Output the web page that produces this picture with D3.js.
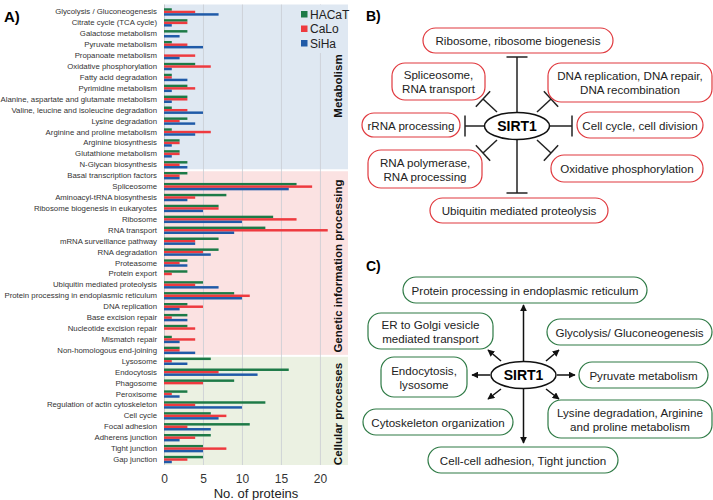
<!DOCTYPE html>
<html><head><meta charset="utf-8">
<script src="https://cdn.jsdelivr.net/npm/d3@7"></script>
<style>
html,body{margin:0;padding:0;background:#fff;}
svg{display:block;font-family:"Liberation Sans",Arial,sans-serif;}
</style></head>
<body><svg id="c" width="713" height="500"></svg>
<script>
const categories = ["Glycolysis / Gluconeogenesis","Citrate cycle (TCA cycle)","Galactose metabolism","Pyruvate metabolism","Propanoate metabolism","Oxidative phosphorylation","Fatty acid degradation","Pyrimidine metabolism","Alanine, aspartate and glutamate metabolism","Valine, leucine and isoleucine degradation","Lysine degradation","Arginine and proline metabolism","Arginine biosynthesis","Glutathione metabolism","N-Glycan biosynthesis",
"Basal transcription factors","Spliceosome","Aminoacyl-tRNA biosynthesis","Ribosome biogenesis in eukaryotes","Ribosome","RNA transport","mRNA surveillance pathway","RNA degradation","Proteasome","Protein export","Ubiquitin mediated proteolysis","Protein processing in endoplasmic reticulum","DNA replication","Base excision repair","Nucleotide excision repair","Mismatch repair","Non-homologous end-joining",
"Lysosome","Endocytosis","Phagosome","Peroxisome","Regulation of actin cytoskeleton","Cell cycle","Focal adhesion","Adherens junction","Tight junction","Gap junction"];
const hacat = [1,3,3,1,0,4,1,3,3,1,3,1,2,2,3, 3,17,8,7,14,13,7,7,3,3,5,9,3,3,3,1,2, 6,16,9,3,13,6,11,6,5,5];
const calo  = [4,3,0,3,4,6,1,4,3,3,2,6,2,2,2, 2,19,4,7,17,21,4,5,2,1,4,11,5,1,4,4,2, 1,7,5,1,4,8,3,4,8,3];
const siha  = [7,1,2,5,2,1,3,1,1,5,4,4,1,1,3, 2,16,3,5,10,9,4,6,3,0,7,10,2,3,0,2,4, 3,12,0,2,10,7,6,2,5,1];
const seriesNames = ["HACaT","CaLo","SiHa"];
const seriesColors = ["#1d7a47","#ee3a3f","#1f5aa8"];
const groupNames = ["Metabolism","Genetic information processing","Cellular processes"];
const groupSizes = [15,17,10];
const groupColors = ["#dfe8f2","#fbe2e2","#ebf1e2"];
const xTicks = [0,5,10,15,20];

const svg = d3.select("#c");

// ---------- Panel A ----------
const L = 164, R = 348, T = 6.5, B = 465;
const x = d3.scaleLinear().domain([0, 23.6]).range([L, R]);
const y = d3.scaleBand().domain(categories).range([T, B]);
const inner = d3.scaleBand().domain(seriesNames).range([0, 7.4]);

const bgG = svg.append("g");
const labelG = svg.append("g");

const ax = svg.append("g").attr("transform", `translate(0,${B})`)
  .call(d3.axisBottom(x).tickValues(xTicks).tickSize(-(B - 4.5)).tickPadding(9));
ax.select(".domain").remove();
ax.selectAll(".tick line").attr("stroke", "#c9cdd3").attr("stroke-width", 0.8)
  .filter(d => d === 0).attr("stroke", "#bbb");
ax.selectAll(".tick text").attr("font-size", 12).attr("fill", "#333")
  .attr("font-family", "Liberation Sans, Arial, sans-serif");
svg.append("text").attr("x", (L + R) / 2).attr("y", 498).attr("text-anchor", "middle")
   .attr("font-size", 13).attr("fill", "#222").text("No. of proteins");

let start = 0;
groupSizes.forEach((n, i) => {
  const y0 = (i === 0 ? 4.5 : y(categories[start]) + 1);
  const y1 = (i === groupSizes.length - 1) ? B : y(categories[start + n - 1]) + y.bandwidth() - 1;
  bgG.append("rect").attr("x", L).attr("y", y0).attr("width", R - L).attr("height", y1 - y0)
     .attr("fill", groupColors[i]);
  const cy = i === 0 ? 86 : (i === 1 ? 266 : 414);
  svg.append("text").attr("transform", `translate(338,${cy}) rotate(-90)`)
     .attr("text-anchor", "middle").attr("dominant-baseline", "central")
     .attr("font-size", 11.5).attr("font-weight", "bold").attr("fill", "#111")
     .text(groupNames[i]);
  start += n;
});

const data = [hacat, calo, siha];
const gy = (i) => y(categories[i]) + (y.bandwidth() - 7.4) / 2;
data.forEach((arr, s) => {
  svg.append("g").selectAll("rect").data(arr).join("rect")
    .attr("x", x(0)).attr("y", (d, i) => gy(i) + inner(seriesNames[s]))
    .attr("width", d => x(d) - x(0)).attr("height", inner.bandwidth())
    .attr("fill", seriesColors[s]);
});

svg.append("g").selectAll("text").data(categories).join("text")
  .attr("x", 157).attr("y", d => y(d) + y.bandwidth() / 2)
  .attr("text-anchor", "end").attr("dominant-baseline", "central")
  .attr("font-size", 7.8).attr("fill", "#333").text(d => d);

const lg = svg.append("g");
lg.append("rect").attr("x", 297).attr("y", 5).attr("width", 51).attr("height", 48).attr("fill", groupColors[0]);
seriesNames.forEach((n, i) => {
  lg.append("rect").attr("x", 301).attr("y", 11 + i * 14.5).attr("width", 6.5).attr("height", 6.5).attr("fill", seriesColors[i]);
  lg.append("text").attr("x", 310).attr("y", 14.5 + i * 14.5).attr("dominant-baseline", "central")
    .attr("font-size", 12).attr("fill", "#222").text(n);
});

svg.append("text").attr("x", 4).attr("y", 22).attr("font-size", 15).attr("font-weight", "bold").text("A)");

// ---------- Panel B / C ----------
const bBoxes = [
  {x0:423,y0:28,x1:613,y1:53,t:["Ribosome, ribosome biogenesis"]},
  {x0:392,y0:63,x1:485,y1:100,t:["Spliceosome,","RNA transport"]},
  {x0:548,y0:63,x1:712,y1:102,t:["DNA replication, DNA repair,","DNA recombination"]},
  {x0:362,y0:113,x1:460,y1:137,t:["rRNA processing"]},
  {x0:577,y0:112,x1:703,y1:138,t:["Cell cycle, cell division"]},
  {x0:368,y0:150,x1:482,y1:188,t:["RNA polymerase,","RNA processing"]},
  {x0:551,y0:155,x1:703,y1:182,t:["Oxidative phosphorylation"]},
  {x0:430,y0:198,x1:608,y1:223,t:["Ubiquitin mediated proteolysis"]}
];
const cBoxes = [
  {x0:403,y0:277,x1:647,y1:303,t:["Protein processing in endoplasmic reticulum"]},
  {x0:368,y0:313,x1:493,y1:349,t:["ER to Golgi vesicle","mediated transport"]},
  {x0:547,y0:319,x1:712,y1:345,t:["Glycolysis/ Gluconeogenesis"]},
  {x0:381,y0:357,x1:467,y1:397,t:["Endocytosis,","lysosome"]},
  {x0:579,y0:362,x1:708,y1:388,t:["Pyruvate metabolism"]},
  {x0:363,y0:409,x1:513,y1:435,t:["Cytoskeleton organization"]},
  {x0:548,y0:400,x1:712,y1:438,t:["Lysine degradation, Arginine","and proline metabolism"]},
  {x0:428,y0:447,x1:618,y1:473,t:["Cell-cell adhesion, Tight junction"]}
];
function drawBoxes(list, color) {
  list.forEach(b => {
    const h = b.y1 - b.y0;
    svg.append("rect").attr("x", b.x0).attr("y", b.y0).attr("width", b.x1 - b.x0).attr("height", h)
      .attr("rx", Math.min(13, h / 2)).attr("ry", Math.min(13, h / 2))
      .attr("fill", "#fff").attr("stroke", color).attr("stroke-width", 1.2);
    const cx = (b.x0 + b.x1) / 2, cy = (b.y0 + b.y1) / 2;
    const lh = 14;
    b.t.forEach((s, k) => {
      svg.append("text").attr("x", cx).attr("y", cy + (k - (b.t.length - 1) / 2) * lh)
        .attr("text-anchor", "middle").attr("dominant-baseline", "central")
        .attr("font-size", 11.6).attr("fill", "#222").text(s);
    });
  });
}
svg.append("text").attr("x", 366).attr("y", 21).attr("font-size", 14).attr("font-weight", "bold").text("B)");
svg.append("text").attr("x", 366).attr("y", 271).attr("font-size", 14).attr("font-weight", "bold").text("C)");

const bc = {x:517, y:126};
const inhib = [
  [517,113,517,57],[517,140,517,193],[485,126,465,126],[550,126,572,126],
  [497,112,483,99],[537,112,551,99],[497,140,483,153],[537,140,551,153]
];
inhib.forEach(([x1,y1,x2,y2]) => {
  svg.append("line").attr("x1",x1).attr("y1",y1).attr("x2",x2).attr("y2",y2).attr("stroke","#222").attr("stroke-width",1.5);
  const dx = x2-x1, dy = y2-y1, len = Math.hypot(dx,dy);
  const px = -dy/len*10.5, py = dx/len*10.5;
  svg.append("line").attr("x1",x2-px).attr("y1",y2-py).attr("x2",x2+px).attr("y2",y2+py).attr("stroke","#222").attr("stroke-width",1.5);
});
drawBoxes(bBoxes, "#e0393e");
svg.append("ellipse").attr("cx",bc.x).attr("cy",bc.y).attr("rx",32.5).attr("ry",13.5).attr("fill","#fff").attr("stroke","#111").attr("stroke-width",1.5);
svg.append("text").attr("x",bc.x).attr("y",bc.y).attr("text-anchor","middle").attr("dominant-baseline","central").attr("font-size",14).attr("font-weight","bold").text("SIRT1");

svg.append("defs").append("marker").attr("id","ah").attr("viewBox","0 0 10 10").attr("refX",9).attr("refY",5)
  .attr("markerWidth",7).attr("markerHeight",7).attr("markerUnits","userSpaceOnUse").attr("orient","auto")
  .append("path").attr("d","M0,0 L10,5 L0,10 z").attr("fill","#111");
const cc = {x:523.5, y:375};
const arrows = [
  [523.5,362,523.5,305],[523.5,388,523.5,443],[490,375,472,375],[557,375,575,375],
  [501,361,488,350],[546,361,559,350],[501,389,488,399],[546,389,559,399]
];
arrows.forEach(([x1,y1,x2,y2]) => {
  svg.append("line").attr("x1",x1).attr("y1",y1).attr("x2",x2).attr("y2",y2).attr("stroke","#111").attr("stroke-width",1.5).attr("marker-end","url(#ah)");
});
drawBoxes(cBoxes, "#2e7a45");
svg.append("ellipse").attr("cx",cc.x).attr("cy",cc.y).attr("rx",32.5).attr("ry",13.5).attr("fill","#fff").attr("stroke","#111").attr("stroke-width",1.5);
svg.append("text").attr("x",cc.x).attr("y",cc.y).attr("text-anchor","middle").attr("dominant-baseline","central").attr("font-size",14).attr("font-weight","bold").text("SIRT1");
</script></body></html>
